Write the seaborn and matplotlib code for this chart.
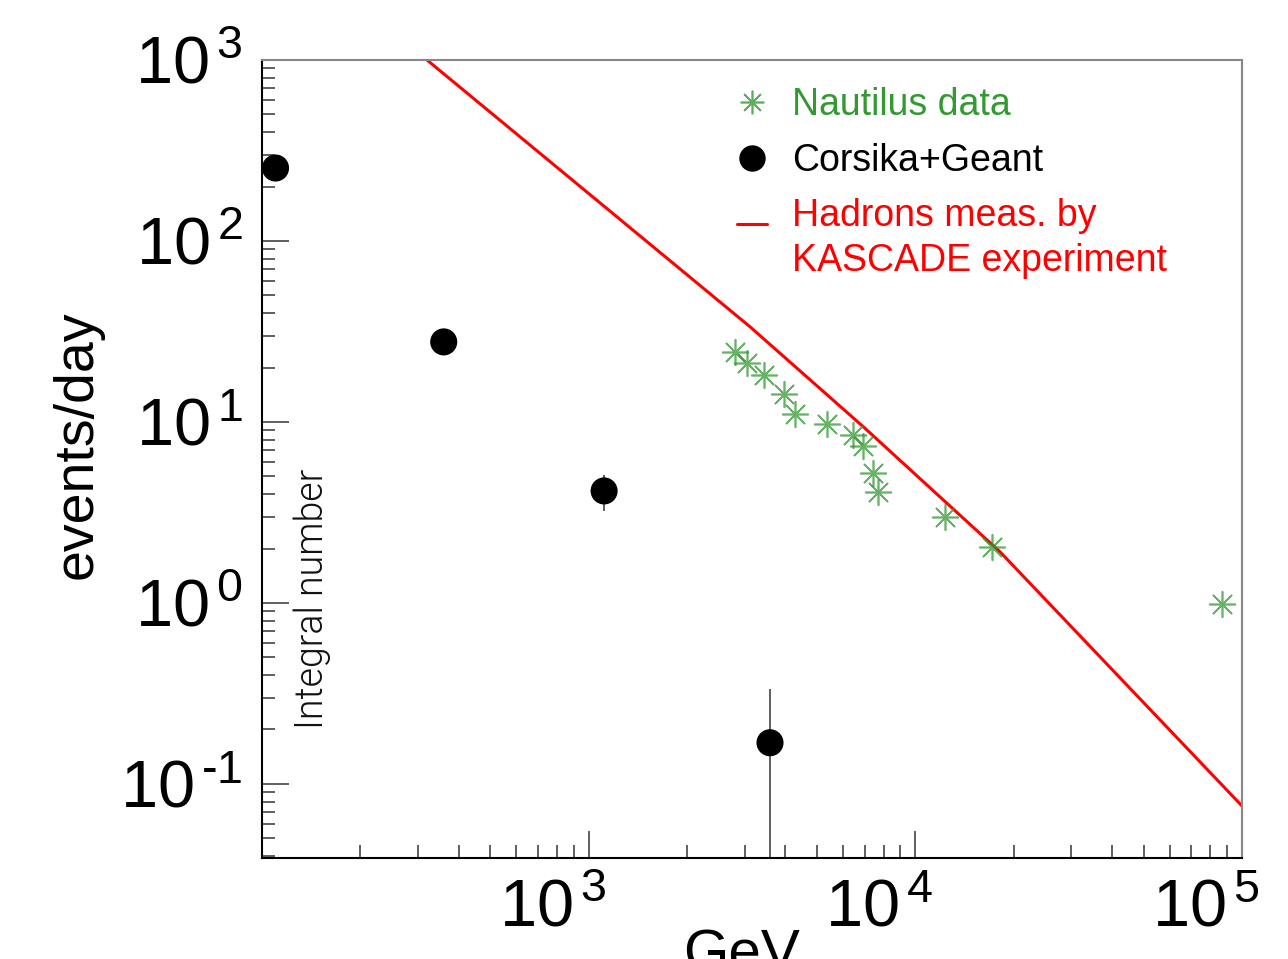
import matplotlib
matplotlib.use("Agg")
import matplotlib.pyplot as plt
import matplotlib.transforms as mtransforms
from matplotlib.lines import Line2D
from matplotlib.legend_handler import HandlerLine2D
from matplotlib.ticker import LogLocator, NullFormatter
import seaborn as sns

# Nautilus measured integral rates (GeV, events/day)
nautilus_energy = [2800, 3050, 3440, 3960, 4280, 5360, 6450, 6930, 7400, 7670, 12300, 17200, 87000]
nautilus_rate = [24.3, 21.1, 18.2, 14.2, 11.1, 9.7, 8.5, 7.4, 5.2, 4.1, 3.0, 2.03, 0.99]

# Corsika+Geant simulation with errors
corsika_energy = [110, 360, 1115, 3590]
corsika_rate = [253, 27.7, 4.16, 0.169]
corsika_err = [0, 0, 0.95, 0.167]

# KASCADE hadron flux
kascade_energy = [320, 3117, 6925, 18150, 100000]
kascade_rate = [1000, 33.6, 9.42, 1.92, 0.0756]

x_ticks = [1e3, 1e4, 1e5]
x_tick_labels = [r"$10^{\,3}$", r"$10^{\,4}$", r"$10^{\,5}$"]
y_ticks = [1e-1, 1e0, 1e1, 1e2, 1e3]
y_tick_labels = [r"$10^{\,\text{-1}}$", r"$10^{\,0}$", r"$10^{\,1}$", r"$10^{\,2}$", r"$10^{\,3}$"]

legend_labels = ["Nautilus data", "Corsika+Geant", "Hadrons meas. by\nKASCADE experiment"]

GREEN = "#339933"


class UpperLineHandler(HandlerLine2D):
    # put the dash next to the first line of a two-line label
    def create_artists(self, legend, orig_handle, xdescent, ydescent, width,
                       height, fontsize, trans):
        artists = super().create_artists(legend, orig_handle, xdescent, ydescent,
                                         width, height, fontsize, trans)
        for a in artists:
            a.set_ydata([y + 0.42 * fontsize for y in a.get_ydata()])
        return artists


sns.set_theme(style="white")
plt.rcParams["font.family"] = ["Liberation Sans", "DejaVu Sans"]
plt.rcParams["mathtext.fontset"] = "custom"
plt.rcParams["mathtext.rm"] = "Liberation Sans"
plt.rcParams["mathtext.it"] = "Liberation Sans:italic"
plt.rcParams["mathtext.bf"] = "Liberation Sans:bold"
plt.rcParams["text.color"] = "black"
plt.rcParams["xtick.labelcolor"] = "black"
plt.rcParams["ytick.labelcolor"] = "black"

W, H = 1288, 959
fig = plt.figure(figsize=(W / 100, H / 100), dpi=100)
ax = fig.add_axes([262 / W, 1 - 858 / H, 980 / W, 798 / H])
ax.set_xscale("log")
ax.set_yscale("log")
ax.set_xlim(100, 1e5)
ax.set_ylim(0.039, 1000)

# KASCADE line
sns.lineplot(x=kascade_energy, y=kascade_rate, ax=ax, color="red", lw=2.2, sort=False)

# Corsika points with error bars
ax.errorbar(corsika_energy, corsika_rate, yerr=corsika_err, fmt="none",
            ecolor="#444444", elinewidth=1.2, capsize=0, zorder=2)
sns.scatterplot(x=corsika_energy, y=corsika_rate, ax=ax, color="black",
                s=380, edgecolor="none", zorder=3)

# Nautilus asterisks
sns.scatterplot(x=nautilus_energy, y=nautilus_rate, ax=ax, marker=(8, 2, 0),
                color=GREEN, s=340, linewidth=1.2, alpha=0.75, zorder=4)

# axes styling (ROOT-like frame)
for side in ["left", "bottom"]:
    ax.spines[side].set_color("black")
    ax.spines[side].set_linewidth(1.5)
for side in ["top", "right"]:
    ax.spines[side].set_color("#888888")
    ax.spines[side].set_linewidth(1.5)

ax.xaxis.set_minor_locator(LogLocator(base=10, subs=range(2, 10), numticks=20))
ax.yaxis.set_minor_locator(LogLocator(base=10, subs=range(2, 10), numticks=20))
ax.xaxis.set_minor_formatter(NullFormatter())
ax.yaxis.set_minor_formatter(NullFormatter())
ax.set_xticks(x_ticks, labels=x_tick_labels)
ax.set_yticks(y_ticks, labels=y_tick_labels)
ax.set_xlim(100, 1e5)
ax.set_ylim(0.039, 1000)

ax.tick_params(which="both", direction="in", top=False, right=False,
               left=True, bottom=True, color="#444444", width=1.2)
ax.tick_params(which="major", length=19.5, labelsize=48)
ax.tick_params(which="minor", length=9.5)
ax.tick_params(axis="y", which="major", pad=14)
ax.tick_params(axis="x", which="major", pad=15)

shift = mtransforms.ScaledTranslation(-0.36, 0, fig.dpi_scale_trans)
for lab in ax.get_xticklabels():
    lab.set_transform(lab.get_transform() + shift)

ax.set_xlabel("")
ax.set_ylabel("")
fig.text(741 / W, 1 - 970 / H, "GeV", fontsize=42, ha="center", va="baseline")
fig.text(78 / W, 1 - 445 / H, "events/day", fontsize=40, rotation=90,
         ha="center", va="center")
fig.text(312 / W, 1 - 599 / H, "Integral number", fontsize=27, rotation=90,
         ha="center", va="center", color="#111111", fontweight=300,
         family=["Roboto", "DejaVu Sans"])

handles = [
    Line2D([], [], marker=(8, 2, 0), color=GREEN, linestyle="none",
           markersize=17, markeredgewidth=1.2, alpha=0.8),
    Line2D([], [], marker="o", color="black", linestyle="none", markersize=18),
    Line2D([], [], color="red", lw=2.2),
]
leg = fig.legend(handles, legend_labels, loc="upper left",
                 bbox_to_anchor=(718 / W, 1 - 68 / H), frameon=False, borderpad=0,
                 fontsize=27, handlelength=0.8, handletextpad=0.67, labelspacing=0.53,
                 labelcolor=[GREEN, "black", "red"],
                 handler_map={handles[2]: UpperLineHandler()})
for t in leg.get_texts():
    t.set_linespacing(1.29)

fig.savefig("out.png", dpi=100)
